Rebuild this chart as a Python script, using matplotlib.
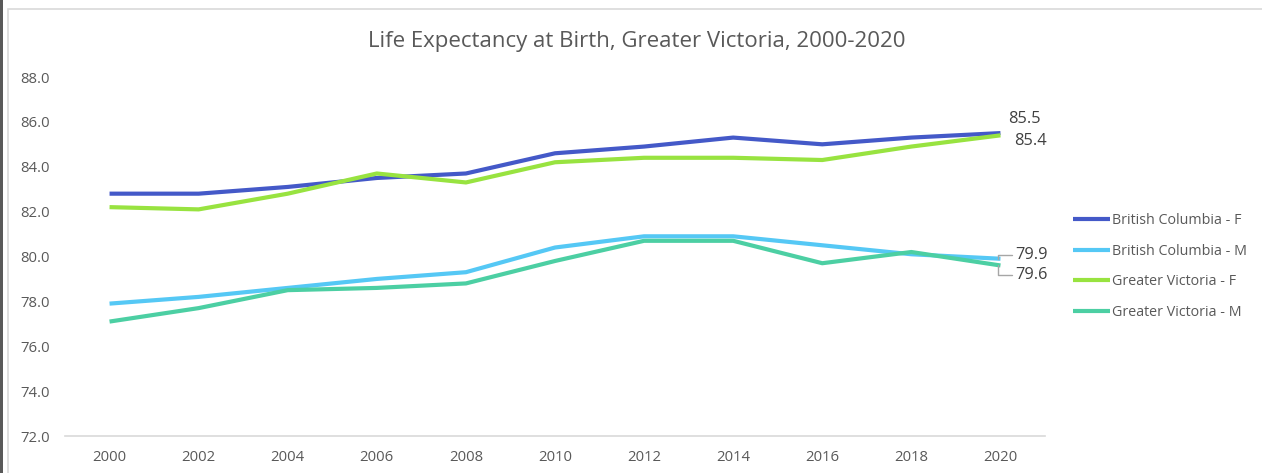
import matplotlib
matplotlib.use("Agg")
import matplotlib.pyplot as plt
from matplotlib.patches import Rectangle

plt.rcParams['font.family'] = ['Open Sans', 'DejaVu Sans']

years = [2000, 2002, 2004, 2006, 2008, 2010, 2012, 2014, 2016, 2018, 2020]
bc_f = [82.8, 82.8, 83.1, 83.5, 83.7, 84.6, 84.9, 85.3, 85.0, 85.3, 85.5]
bc_m = [77.9, 78.2, 78.6, 79.0, 79.3, 80.4, 80.9, 80.9, 80.5, 80.1, 79.9]
gv_f = [82.2, 82.1, 82.8, 83.7, 83.3, 84.2, 84.4, 84.4, 84.3, 84.9, 85.4]
gv_m = [77.1, 77.7, 78.5, 78.6, 78.8, 79.8, 80.7, 80.7, 79.7, 80.2, 79.6]

series = [
    ("British Columbia - F", bc_f, "#4459C8"),
    ("British Columbia - M", bc_m, "#55C8F5"),
    ("Greater Victoria - F", gv_f, "#98E340"),
    ("Greater Victoria - M", gv_m, "#4CCFA3"),
]
yticks = [72, 74, 76, 78, 80, 82, 84, 86, 88]
txt = "#595959"

fig = plt.figure(figsize=(12.62, 4.73), dpi=100)
ax = fig.add_axes([65 / 1262, 37 / 473, 980 / 1262, 359 / 473])

for name, vals, col in series:
    ax.plot(years, vals, color=col, lw=3.0, label=name, solid_capstyle="butt")

ax.set_xlim(1999, 2021)
ax.set_ylim(72, 88)
ax.set_xticks(years)
ax.set_yticks(yticks)
ax.set_yticklabels([f"{v:.1f}" for v in yticks])
ax.tick_params(axis="both", length=0, labelsize=10.7, labelcolor=txt)
ax.tick_params(axis="y", pad=11)
ax.tick_params(axis="x", pad=10)
for s in ["left", "top", "right"]:
    ax.spines[s].set_visible(False)
ax.spines["bottom"].set_color("#D9D9D9")
ax.spines["bottom"].set_linewidth(1.2)

fig.text(637 / 1262, 1 - 42 / 473, "Life Expectancy at Birth, Greater Victoria, 2000-2020",
         ha="center", va="center", fontsize=16, color=txt)

# end-point labels
lab = "#404040"
ax.annotate(f"{bc_f[-1]:.1f}", (years[-1], bc_f[-1]), xytext=(5.5, 10), textcoords="offset points",
            va="center", ha="left", fontsize=11.8, color=lab)
ax.annotate(f"{gv_f[-1]:.1f}", (years[-1], gv_f[-1]), xytext=(9.5, -4.3), textcoords="offset points",
            va="center", ha="left", fontsize=11.8, color=lab)
lead = dict(arrowstyle="-", color="#A6A6A6", lw=1.0, shrinkA=0, shrinkB=0,
            connectionstyle="angle,angleA=0,angleB=90,rad=0", relpos=(0, 0.5))
ax.annotate(f"{bc_m[-1]:.1f}", (years[-1] - 0.05, bc_m[-1]), xytext=(12, 3), textcoords="offset points",
            va="center", ha="left", fontsize=11.8, color=lab, arrowprops=lead)
ax.annotate(f"{gv_m[-1]:.1f}", (years[-1] - 0.05, gv_m[-1]), xytext=(12, -7.2), textcoords="offset points",
            va="center", ha="left", fontsize=11.8, color=lab, arrowprops=lead)

leg = fig.legend(loc="center left", bbox_to_anchor=(1073 / 1262, 1 - 266.5 / 473),
                 frameon=False, fontsize=10.3, handlelength=2.6, handletextpad=0.15,
                 labelspacing=1.08, borderpad=0, borderaxespad=0)
for t in leg.get_texts():
    t.set_color(txt)

# chart frame
fig.patches.append(Rectangle((8 / 1262, -0.1), 1.2, 1 - 9 / 473 + 0.1, transform=fig.transFigure,
                             fill=False, edgecolor="#D9D9D9", lw=1.2))
fig.patches.append(Rectangle((0, 0), 2.5 / 1262, 1, transform=fig.transFigure,
                             facecolor="#595959", edgecolor="none"))

fig.savefig("out.png", dpi=100)
